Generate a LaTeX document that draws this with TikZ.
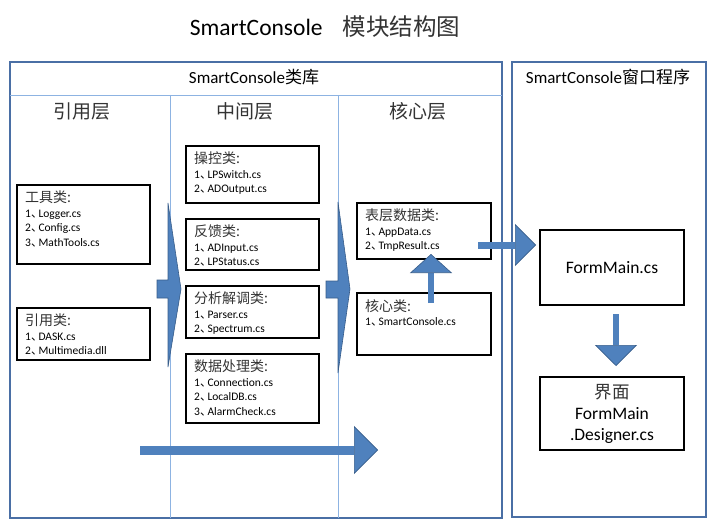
\documentclass[tikz,border=0pt]{standalone}
\usepackage{fontspec}
\setmainfont{Carlito}
\newfontfamily\cjk{Noto Sans CJK SC}
\usetikzlibrary{arrows.meta,positioning}
\definecolor{arrowblue}{HTML}{4F81BD}
\definecolor{arrowedge}{HTML}{385D8A}
\definecolor{framec}{HTML}{4A6FA5}
\definecolor{divc}{HTML}{8DB3E2}
\newcommand\dun{{\cjk 、}\kern-4pt}
\newcommand\ttl[1]{{\cjk\fontsize{14}{15}\selectfont\color{black!80}#1:}}
\tikzset{
        frame/.style = {draw=framec, line width=1.6pt, anchor=north west,
            inner sep=0pt, outer sep=0pt},
        divline/.style = {draw=divc, line width=0.8pt},
        block/.style = {draw, line width=1.6pt, anchor=north west,
            inner sep=0pt, outer sep=0pt},
        midbox/.style = {block, minimum width=133pt},
        txt/.style = {anchor=north west, align=left, inner sep=0pt,
            font=\fontsize{11.5}{14.5}\selectfont},
        head/.style = {font=\cjk\fontsize{19}{22}\selectfont, text=black!80},
        big/.style = {font=\fontsize{17.5}{21}\selectfont, align=center},
        fat/.style n args = {3}{draw=arrowblue, line width=#1,
            -{Triangle[length=#2, width=#3, fill=arrowblue, color=arrowedge, line width=0.6pt]}},
        chev/.style = {fill=arrowblue, draw=arrowedge, line width=0.6pt},
    }

\begin{document}
\begin{tikzpicture}[x=1pt, y=-1pt]
        \useasboundingbox (0,0) rectangle (713,527);

        \node[font=\fontsize{23.5}{26}\selectfont] (title) at (325,27)
            {SmartConsole\hspace{20pt}{\cjk\color{black!80}模块结构图}};

        \node[frame, minimum width=492pt, minimum height=456pt] (lib) at (10,62) {};
        \node[frame, minimum width=194pt, minimum height=455pt] (app) at (512,62) {};
        \node[font=\fontsize{17}{18}\selectfont] (libT) at (254,77) {SmartConsole{\cjk 类库}};
        \node[font=\fontsize{17}{18}\selectfont] (appT) at (608,77) {SmartConsole{\cjk 窗口程序}};

        \coordinate (hl) at (10,95);
        \coordinate (hr) at (502,95);
        \coordinate (d1t) at (170,95);
        \coordinate (d1b) at (170,518);
        \coordinate (d2t) at (338,95);
        \coordinate (d2b) at (338,518);
        \draw[divline] (hl) -- (hr);
        \draw[divline] (d1t) -- (d1b);
        \draw[divline] (d2t) -- (d2b);

        \node[head] (ref) at (82,111) {引用层};
        \node[head] (mid) at (245,111) {中间层};
        \node[head] (cor) at (418,111) {核心层};

        \node[block, minimum width=133pt, minimum height=79pt] (tools) at (17,185) {};
        \node[block, minimum width=133pt, minimum height=52pt] (refs) at (17,308) {};

        \node[midbox, minimum height=57pt] (ctrl) at (186,146) {};
        \node[midbox, below=16pt of ctrl, minimum height=51pt] (fb) {};
        \node[midbox, below=16pt of fb, minimum height=52pt] (ana) {};
        \node[midbox, below=16pt of ana, minimum height=69pt] (data) {};

        \node[block, minimum width=134pt, minimum height=56pt] (surf) at (357,203) {};
        \node[block, minimum width=134pt, minimum height=62pt] (core) at (357,293) {};

        \node[block, minimum width=144pt, minimum height=75pt, big] (fmain) at (540,230) {FormMain.cs};
        \node[block, minimum width=144pt, minimum height=73pt, big] (ui) at (540,377)
            {{\cjk\color{black!80}界面}\\FormMain\\.Designer.cs};

        \node[txt] (toolsT) at ([shift={(8,6)}]tools.north west)
            {\ttl{工具类}\\1\dun Logger.cs\\2\dun Config.cs\\3\dun MathTools.cs};
        \node[txt] (refsT) at ([shift={(8,6)}]refs.north west)
            {\ttl{引用类}\\1\dun DASK.cs\\2\dun Multimedia.dll};
        \node[txt] (ctrlT) at ([shift={(8,6)}]ctrl.north west)
            {\ttl{操控类}\\1\dun LPSwitch.cs\\2\dun ADOutput.cs};
        \node[txt] (fbT) at ([shift={(8,6)}]fb.north west)
            {\ttl{反馈类}\\1\dun ADInput.cs\\2\dun LPStatus.cs};
        \node[txt] (anaT) at ([shift={(8,6)}]ana.north west)
            {\ttl{分析解调类}\\1\dun Parser.cs\\2\dun Spectrum.cs};
        \node[txt] (dataT) at ([shift={(8,6)}]data.north west)
            {\ttl{数据处理类}\\1\dun Connection.cs\\2\dun LocalDB.cs\\3\dun AlarmCheck.cs};
        \node[txt] (surfT) at ([shift={(8,6)}]surf.north west)
            {\ttl{表层数据类}\\1\dun AppData.cs\\2\dun TmpResult.cs};
        \node[txt] (coreT) at ([shift={(8,6)}]core.north west)
            {\ttl{核心类}\\1\dun SmartConsole.cs};

        \draw[chev] (157,280) -- (168,280) -- (168,203) -- (181,289)
            -- (168,367) -- (168,298) -- (157,298) -- cycle;
        \draw[chev] (326,281) -- (338,281) -- (338,202) -- (350,289)
            -- (338,373) -- (338,298) -- (326,298) -- cycle;

        \coordinate (ls) at (140,450);
        \coordinate (le) at (378,450);
        \draw[fat={9pt}{24pt}{48pt}] (ls) -- (le);

        \draw[fat={5.5pt}{19pt}{42pt}] ([shift={(7,10)}]core.north) -- ([shift={(7,-5)}]surf.south);
        \draw[fat={7pt}{21pt}{42pt}] ([shift={(-13,14)}]surf.east) -- ([shift={(-4,-22.5)}]fmain.west);
        \draw[fat={6pt}{21pt}{42pt}] ([shift={(4,9)}]fmain.south) -- ([shift={(4,-11)}]ui.north);
\end{tikzpicture}
\end{document}
